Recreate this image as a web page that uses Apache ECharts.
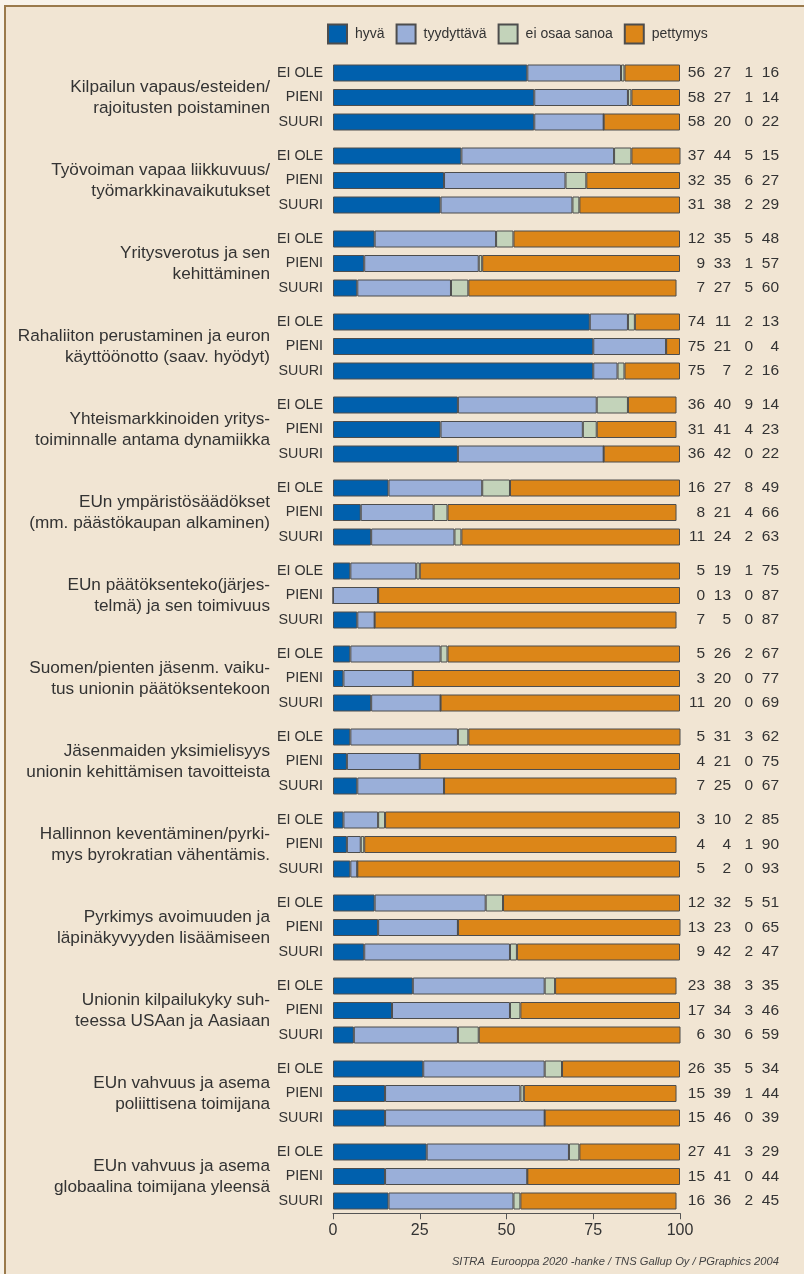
<!DOCTYPE html>
<html>
<head>
<meta charset="utf-8">
<script src="https://cdn.jsdelivr.net/npm/echarts@6/dist/echarts.min.js"></script>
<style>
  html, body { margin: 0; padding: 0; background: #f8f3ea; }
  #frame {
    position: absolute; left: 4px; top: 5px; right: 0; bottom: 0;
    background: #f1e5d3;
    border-top: 2px solid #9a7a4c;
    border-left: 2px solid #9a7a4c;
  }
  #chart { position: absolute; left: 0; top: 0; width: 804px; height: 1274px; }
</style>
</head>
<body>
<div id="frame"></div>
<div id="chart"></div>
<script>
// kysymykset (ryhmät)
const groups = [
  'Kilpailun vapaus/esteiden/\nrajoitusten poistaminen',
  'Työvoiman vapaa liikkuvuus/\ntyömarkkinavaikutukset',
  'Yritysverotus ja sen\nkehittäminen',
  'Rahaliiton perustaminen ja euron\nkäyttöönotto (saav. hyödyt)',
  'Yhteismarkkinoiden yritys-\ntoiminnalle antama dynamiikka',
  'EUn ympäristösäädökset\n(mm. päästökaupan alkaminen)',
  'EUn päätöksenteko(järjes-\ntelmä) ja sen toimivuus',
  'Suomen/pienten jäsenm. vaiku-\ntus unionin päätöksentekoon',
  'Jäsenmaiden yksimielisyys\nunionin kehittämisen tavoitteista',
  'Hallinnon keventäminen/pyrki-\nmys byrokratian vähentämis.',
  'Pyrkimys avoimuuden ja\nläpinäkyvyyden lisäämiseen',
  'Unionin kilpailukyky suh-\nteessa USAan ja Aasiaan',
  'EUn vahvuus ja asema\npoliittisena toimijana',
  'EUn vahvuus ja asema\nglobaalina toimijana yleensä'
]
const rows = ['EI OLE', 'PIENI', 'SUURI']

// arvot: [EI OLE, PIENI, SUURI] per kysymys
const hyva = [[56,58,58],[37,32,31],[12,9,7],[74,75,75],[36,31,36],[16,8,11],[5,0,7],
              [5,3,11],[5,4,7],[3,4,5],[12,13,9],[23,17,6],[26,15,15],[27,15,16]]
const tyydyttava = [[27,27,20],[44,35,38],[35,33,27],[11,21,7],[40,41,42],[27,21,24],[19,13,5],
                    [26,20,20],[31,21,25],[10,4,2],[32,23,42],[38,34,30],[35,39,46],[41,41,36]]
const eiOsaa = [[1,1,0],[5,6,2],[5,1,5],[2,0,2],[9,4,0],[8,4,2],[1,0,0],
                [2,0,0],[3,0,0],[2,1,0],[5,0,2],[3,3,6],[5,1,0],[3,0,2]]
const pettymys = [[16,14,22],[15,27,29],[48,57,60],[13,4,16],[14,23,22],[49,66,63],[75,87,87],
                  [67,77,69],[62,75,67],[85,90,93],[51,65,47],[35,46,59],[34,44,39],[29,44,45]]
const xTicks = [0, 25, 50, 75, 100]

const seriesNames = ['hyvä', 'tyydyttävä', 'ei osaa sanoa', 'pettymys']
const seriesData = [hyva, tyydyttava, eiOsaa, pettymys]
const colors = ['#0060ad', '#9aafd9', '#c3d3ba', '#dc8618']

const font = '"Liberation Sans", Arial, sans-serif'
const textColor = '#333'
const numSize = 15.5

// asettelu
const gridLeft = 333
const gridWidth = 347
const firstTop = 60.75
const groupStep = 83
const gridHeight = 73.5

const grid = []
const xAxis = []
const yAxis = []
const series = []

groups.forEach((name, i) => {
  const last = i === groups.length - 1
  grid.push({
    left: gridLeft, width: gridWidth, top: firstTop + i * groupStep, height: gridHeight,
    containLabel: false, outerBoundsMode: 'none'
  })

  xAxis.push({
    type: 'value',
    gridIndex: i,
    min: xTicks[0],
    max: xTicks[xTicks.length - 1],
    interval: xTicks[1] - xTicks[0],
    show: last,
    splitLine: { show: false },
    axisLine: { show: true, lineStyle: { color: '#555', width: 1 } },
    axisTick: { show: true, length: 6, lineStyle: { color: '#555' } },
    axisLabel: { fontSize: 16, color: textColor, margin: 9 }
  })

  // rivien nimet
  yAxis.push({
    type: 'category',
    gridIndex: i,
    data: rows,
    inverse: true,
    axisLine: { show: false },
    axisTick: { show: false },
    axisLabel: { interval: 0, fontSize: 14.3, color: textColor, margin: 10 }
  })
  // kysymys
  yAxis.push({
    type: 'category',
    gridIndex: i,
    data: [name],
    position: 'left',
    offset: 63,
    axisLine: { show: false },
    axisTick: { show: false },
    axisLabel: {
      interval: 0, fontSize: 17.2, lineHeight: 21, color: textColor, margin: 0,
      padding: [5, 0, 0, 0]
    }
  })
  // luvut oikealla
  yAxis.push({
    type: 'category',
    gridIndex: i,
    data: rows,
    inverse: true,
    position: 'right',
    axisLine: { show: false },
    axisTick: { show: false },
    axisLabel: {
      interval: 0,
      margin: 8,
      color: textColor,
      fontSize: numSize,
      formatter: (v, j) =>
        `{a|${hyva[i][j]}}{b|${tyydyttava[i][j]}}{c|${eiOsaa[i][j]}}{d|${pettymys[i][j]}}`,
      rich: {
        a: { width: 17, align: 'right', fontSize: numSize, color: textColor },
        b: { width: 26, align: 'right', fontSize: numSize, color: textColor },
        c: { width: 22, align: 'right', fontSize: numSize, color: textColor },
        d: { width: 26, align: 'right', fontSize: numSize, color: textColor }
      }
    }
  })

  seriesNames.forEach((sName, k) => {
    series.push({
      name: sName,
      type: 'bar',
      stack: 'g' + i,
      xAxisIndex: i,
      yAxisIndex: i * 3,
      barWidth: 17,
      data: seriesData[k][i],
      itemStyle: { color: colors[k], borderColor: '#4d4d4d', borderWidth: 1, borderRadius: 0 },
      emphasis: { disabled: true }
    })
  })
})

const chart = echarts.init(document.getElementById('chart'), null, { renderer: 'canvas' })

chart.setOption({
  backgroundColor: 'transparent',
  animation: false,
  textStyle: { fontFamily: font, color: textColor },
  legend: {
    data: seriesNames,
    icon: 'rect',
    left: 327,
    top: 23.5,
    padding: 0,
    itemWidth: 19,
    itemHeight: 19,
    itemGap: 11,
    textStyle: { fontSize: 14, color: textColor, fontFamily: font, padding: [0, 0, 0, 3] }
  },
  title: {
    text: 'SITRA  Eurooppa 2020 -hanke / TNS Gallup Oy / PGraphics 2004',
    right: 20,
    top: 1251,
    textStyle: { fontSize: 11.2, fontStyle: 'italic', fontWeight: 'normal', color: '#444', fontFamily: font }
  },
  grid,
  xAxis,
  yAxis,
  series
})
</script>
</body>
</html>
